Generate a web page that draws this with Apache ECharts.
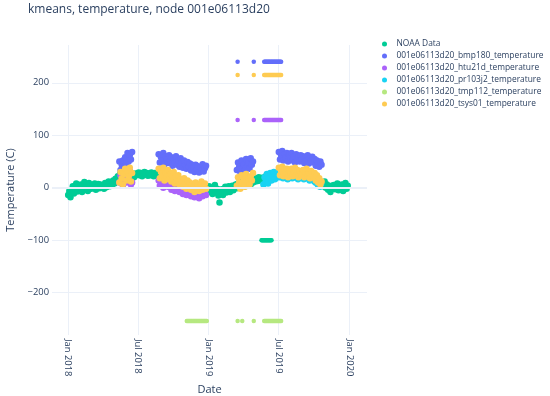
<!DOCTYPE html>
<html><head><meta charset="utf-8">
<script src="https://cdn.jsdelivr.net/npm/echarts@6/dist/echarts.min.js"></script>
<style>html,body{margin:0;padding:0;background:#fff}#c{width:550px;height:396px}</style>
</head><body><div id="c"></div>
<script>
// ---------------- data ----------------
const titleText = 'kmeans, temperature, node 001e06113d20';
const seriesNames = ['NOAA Data', '001e06113d20_bmp180_temperature', '001e06113d20_htu21d_temperature',
  '001e06113d20_pr103j2_temperature', '001e06113d20_tmp112_temperature', '001e06113d20_tsys01_temperature'];
const xTickDates = ['2018-01-01', '2018-07-01', '2019-01-01', '2019-07-01', '2020-01-01'];
const yTickValues = [-200, -100, 0, 100, 200];
const monthNames = ['Jan','Feb','Mar','Apr','May','Jun','Jul','Aug','Sep','Oct','Nov','Dec'];

// NOAA Data (sampled every 3 days)
const noaaStart = '2018-01-01';
const noaaValues = [
  -14, -6, -18, -9, 3, -11, -2, 8, -7, 1,
  -4, 6, -8, 2, 11, -3, 4, -6, 9, 1,
  -2, 5, 0, 8, -4, 3, 7, -1, 6, 2,
  4, -2, 9, 1, 6, 12, 3, 10, 5, 14,
  8, 17, 12, 22, 15, 26, 18, 24, 20, 27,
  22, 19, 25, 21, 28, 23, 26, 20, 27, 24,
  26, 29, 24, 28, 22, 27, 30, 25, 28, 23,
  27, 24, 29, 25, 22, 28, 26, 23, 27, 24,
  25, 21, 26, 18, 23, 20, 16, 22, 14, 19,
  15, 12, 17, 9, 13, 6, 11, 4, 8, 2,
  5, -2, 3, -5, 1, -3, 4, -6, 0, 2,
  -1, 3, -4, 2, 5, -2, 1, 4, -3, 0,
  2, -4, 3, -8, 0, -12, -3, 5, -9, -2,
  -15, -28, -10, -3, -14, -6, 2, -9, -4, 3,
  -8, -2, 4, -5, 1, 6, -1, 8, 3, 10,
  5, 12, 7, 3, 14, 9, 16, 11, 6, 13,
  10, 15, 12, 18, 13, 20, 14, 17, 19, 15,
  18, 22, 16, 21, 24, 19, 23, 20, 26, 22,
  25, 28, 24, 30, 27, 29, 26, 31, 28, 25,
  27, 24, 28, 25, 23, 27, 26, 22, 25, 24,
  23, 21, 25, 20, 24, 22, 19, 23, 21, 18,
  20, 16, 22, 13, 17, 10, 14, 8, 12, 6,
  9, 3, 12, 0, 6, -4, 2, -8, 4, -2,
  5, -3, 1, 8, -5, 3, -1, 6, -6, 2, 9, -2, 4
];
// NOAA missing-value flags (every 2 days)
const noaaFlagStart = '2019-05-18';
const noaaFlagValues = [-99.9, -99.9, -99.9, -99.9, -99.9, -99.9, -99.9, -99.9, -99.9, -99.9, -99.9, -99.9, -99.9, -99.9];

// block start dates (3-day sampling)
const block1Start = '2018-05-14';
const block2Start = '2018-08-24';
const block3Start = '2019-03-15';
const block4Start = '2019-07-02';
const cyanStart = '2019-05-23';

// bmp180
const bmpBlock1 = [50, 34, 44, 52, 38, 58, 46, 66, 50, 62, 54, 68];
const bmpBlock2 = [
  64, 48, 58, 52, 66, 45, 60, 54, 47, 62,
  50, 58, 42, 55, 47, 60, 44, 52, 40, 56,
  48, 38, 52, 43, 36, 49, 40, 46, 33, 44,
  38, 30, 44, 35, 41, 29, 39, 33, 45, 31, 37, 42];
const bmpBlock3 = [34, 48, 40, 30, 52, 38, 45, 33, 55, 42, 48, 36, 56, 44, 50];
const bmpBlock4 = [
  68, 54, 62, 70, 52, 64, 58, 66, 50, 63,
  57, 66, 52, 60, 48, 64, 55, 61, 50, 62,
  54, 60, 47, 58, 52, 62, 46, 56, 50, 59,
  48, 55, 42, 52, 46, 40, 50, 44];

// htu21d
const htuBlock1 = [10, 24, 14, 4, 20, 30, 10, 26, 18, 32, 6, 10];
const htuBlock2 = [
  14, 4, 18, 8, 0, 12, 6, 16, 2, 10,
  4, -4, 8, 0, -6, 2, -2, 6, -8, 0,
  -4, -12, 0, -8, -14, -2, -10, -6, -16, -8,
  -10, -18, -6, -14, -8, -20, -12, -4, -16, -10, -6, -14];

// pr103j2
const prValues = [
  6, 20, 12, 26, 8, 18, 28, 14, 22, 30, 16, 26, 20,
  30, 20, 26, 34, 18, 28, 22, 30, 16, 26,
  24, 30, 18, 26, 32, 20, 28, 16, 26, 22,
  20, 28, 16, 24, 30, 18, 24, 14, 26, 20,
  16, 22, 10, 18, 6, 12, 2, 8];

// tsys01
const tsysBlock1 = [10, 30, 18, 6, 26, 36, 14, 32, 22, 38, 12, 28];
const tsysBlock2 = [
  36, 18, 30, 24, 38, 14, 28, 22, 34, 16,
  26, 12, 22, 30, 8, 20, 14, 24, 6, 16,
  12, 2, 18, 8, -2, 14, 4, 10, -4, 6,
  2, -8, 10, 0, 6, -6, 4, 12, -4, 2, 8, -2];
const tsysBlock3 = [4, 20, 10, -2, 24, 8, 16, 2, 26, 12, 18, 6, 22, 14, 28];
const tsysBlock4 = [
  38, 24, 32, 40, 22, 34, 28, 36, 20, 32,
  28, 36, 22, 30, 38, 24, 34, 20, 32, 26,
  24, 34, 20, 30, 36, 22, 28, 18, 32, 24,
  20, 28, 14, 24, 10, 18, 6, 12];

// sensor error values (single dates + a run sampled every 2 days)
const errorDates = ['2019-03-17', '2019-04-28'];
const errorRunStart = '2019-05-25';
const bmpErrorDots = [240, 240];
const bmpErrorRun = [240,240,240,240,240,240,240,240,240,240,240,240,240,240,240,240,240,240,240,240,240,240,240];
const htuErrorDots = [129, 129];
const htuErrorRun = [129,129,129,129,129,129,129,129,129,129,129,129,129,129,129,129,129,129,129,129,129,129,129];
const tsysErrorDots = [215, 215];
const tsysErrorRun = [215,215,215,215,215,215,215,215,215,215,215,215,215,215,215,215,215,215,215,215,215,215,215];
const tmpErrorDates = ['2019-03-17', '2019-03-29', '2019-04-28'];
const tmpErrorDots = [-254, -254, -254];
const tmpErrorRun = [-254,-254,-254,-254,-254,-254,-254,-254,-254,-254,-254,-254,-254,-254,-254,-254,-254,-254,-254,-254,-254,-254,-254];
const tmpError2018Start = '2018-11-05';
const tmpError2018 = [-254,-254,-254,-254,-254,-254,-254,-254,-254,-254,-254,-254,-254,-254,-254,-254,-254,-254,-254,-254,-254,-254,-254,-254,-254,-254,-254];

// ---------------- build ----------------
const DAY = 864e5;
const ts = s => Date.parse(s + 'T00:00:00Z');
const run = (start, stepDays, vals) => vals.map((v, i) => [ts(start) + i * stepDays * DAY, v]);
const dots = (dates, vals) => vals.map((v, i) => [ts(dates[i]), v]);

const colors = ['#00cc96', '#636efa', '#ab63fa', '#19d3f3', '#B6E880', '#FECB52'];
const seriesData = [
  run(noaaStart, 3, noaaValues).concat(run(noaaFlagStart, 2, noaaFlagValues)),
  run(block1Start, 3, bmpBlock1).concat(run(block2Start, 3, bmpBlock2), run(block3Start, 3, bmpBlock3),
    run(block4Start, 3, bmpBlock4), dots(errorDates, bmpErrorDots), run(errorRunStart, 2, bmpErrorRun)),
  run(block1Start, 3, htuBlock1).concat(run(block2Start, 3, htuBlock2), dots(errorDates, htuErrorDots),
    run(errorRunStart, 2, htuErrorRun)),
  run(cyanStart, 3, prValues),
  dots(tmpErrorDates, tmpErrorDots).concat(run(errorRunStart, 2, tmpErrorRun), run(tmpError2018Start, 2, tmpError2018)),
  run(block1Start, 3, tsysBlock1).concat(run(block2Start, 3, tsysBlock2), run(block3Start, 3, tsysBlock3),
    run(block4Start, 3, tsysBlock4), dots(errorDates, tsysErrorDots), run(errorRunStart, 2, tsysErrorRun))
];

const font = '"Open Sans", verdana, arial, sans-serif';
const textColor = '#2a3f5f';
const gridColor = '#EBF0F8';
const xTicks = xTickDates.map(ts);
const chart = echarts.init(document.getElementById('c'));

// dense readings drawn a bit larger than isolated sensor-error readings
const markerSize = v => (Math.abs(v[1]) > 90 ? 4.5 : 6.5);
const series = seriesNames.map((name, i) => ({
  name, type: 'scatter', data: seriesData[i], symbol: 'circle', symbolSize: markerSize,
  itemStyle: { color: colors[i], opacity: 1 }, z: 3, emphasis: { disabled: true }
}));
series.unshift({
  name: '_zero', type: 'scatter', data: [], z: 1, silent: true,
  markLine: { silent: true, symbol: 'none', label: { show: false },
    lineStyle: { color: gridColor, width: 2, type: 'solid' }, data: [{ yAxis: 0 }] }
});

chart.setOption({
  animation: false,
  backgroundColor: '#fff',
  title: { text: titleText, left: 28, top: 4, padding: 0,
    textStyle: { fontFamily: font, fontSize: 12, fontWeight: 'normal', color: textColor } },
  legend: { orient: 'vertical', left: 382, top: 39, padding: 0, itemWidth: 14, itemHeight: 5, itemGap: 2,
    icon: 'circle', data: seriesNames,
    textStyle: { fontFamily: font, fontSize: 8.4, color: textColor, lineHeight: 10 } },
  grid: { left: 52, right: 183, top: 45, bottom: 61, outerBoundsMode: 'none' },
  xAxis: {
    type: 'value', min: Date.UTC(2017, 10, 20), max: Date.UTC(2020, 1, 16),
    name: 'Date', nameLocation: 'middle', nameGap: 44,
    nameTextStyle: { fontFamily: font, fontSize: 11, color: textColor },
    axisLine: { show: false }, axisTick: { show: false, customValues: xTicks },
    axisLabel: { customValues: xTicks, rotate: -90, margin: 4, fontFamily: font, fontSize: 9.4, color: textColor,
      formatter: v => { const d = new Date(v); return monthNames[d.getUTCMonth()] + ' ' + d.getUTCFullYear(); } },
    splitLine: { show: true, lineStyle: { color: gridColor, width: 1 } }
  },
  yAxis: {
    type: 'value', min: -280.6, max: 272,
    name: 'Temperature (C)', nameLocation: 'middle', nameGap: 35,
    nameTextStyle: { fontFamily: font, fontSize: 11, color: textColor },
    axisLine: { show: false }, axisTick: { show: false, customValues: yTickValues },
    axisLabel: { customValues: yTickValues, margin: 3, fontFamily: font, fontSize: 9.4, color: textColor,
      formatter: v => (v < 0 ? '\u2212' + Math.abs(v) : String(v)) },
    splitLine: { show: true, lineStyle: { color: gridColor, width: 1 } }
  },
  series
});
</script></body></html>
